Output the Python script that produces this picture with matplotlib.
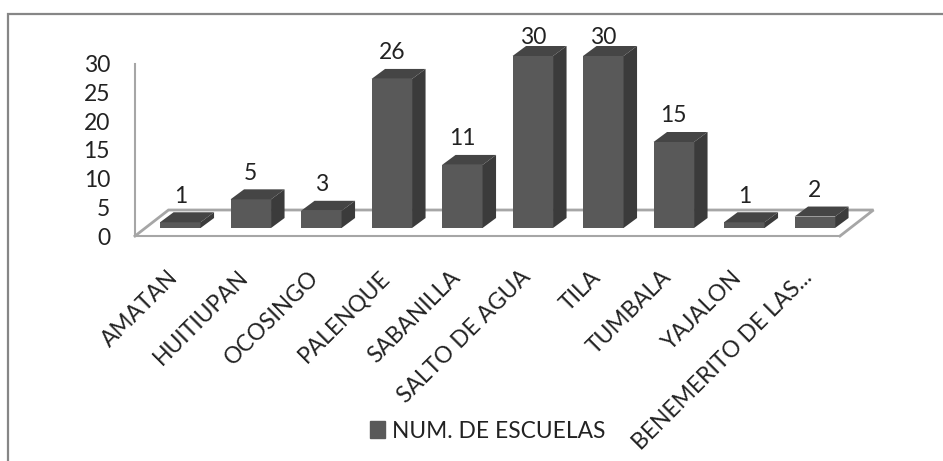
import matplotlib
matplotlib.use("Agg")
import matplotlib.pyplot as plt
from matplotlib.lines import Line2D
from matplotlib.patches import Polygon, Patch
from matplotlib.transforms import ScaledTranslation

categories = ["AMATAN", "HUITIUPAN", "OCOSINGO", "PALENQUE", "SABANILLA",
              "SALTO DE AGUA", "TILA", "TUMBALA", "YAJALON", "BENEMERITO DE LAS..."]
values = [1, 5, 3, 26, 11, 30, 30, 15, 1, 2]
series_name = "NUM. DE ESCUELAS"
y_ticks = [0, 5, 10, 15, 20, 25, 30]

W, H = 943, 461
plt.rcParams["font.family"] = ["Lato", "DejaVu Sans"]
TEXT = "#222222"
FRONT, TOP, SIDE = "#595959", "#454545", "#3b3b3b"
GRID = "#a6a6a6"
FRAME = "#868686"

fig = plt.figure(figsize=(W / 100, H / 100), dpi=100, facecolor="white")
ax = fig.add_axes([135 / W, 1 - 236 / H, (840 - 135) / W, (236 - 64) / H])
step = 70.5
x0 = 180.3
ax.set_xlim((135 - x0) / step, (840 - x0) / step)
ax.set_ylim(0, 30)
ax.patch.set_alpha(0)

ux = 1 / step          # data units per pixel
uy = 30 / 172
base = 8 * uy
bw = 40.5 * ux
ddx, ddy = 13.5 * ux, 10 * uy
fdx, fdy = 33.5 * ux, 26 * uy
xl, xr = ax.get_xlim()

# floor
ax.plot([xl, xl + fdx, xr + fdx, xr], [0, fdy, fdy, 0], color=GRID, lw=2,
        clip_on=False, zorder=1, solid_joinstyle="miter")

xs = list(range(len(values)))
ax.bar(xs, values, width=bw, bottom=base, color=FRONT, zorder=3, clip_on=False,
       label=series_name)
label_ceiling = 34.6   # data labels stay inside the chart area
for x, v in zip(xs, values):
    l, r, t = x - bw / 2, x + bw / 2, v + base
    ax.add_patch(Polygon([(l, t), (r, t), (r + ddx, t + ddy), (l + ddx, t + ddy)],
                         closed=True, fc=TOP, ec="none", zorder=3, clip_on=False))
    ax.add_patch(Polygon([(r, base), (r, t), (r + ddx, t + ddy), (r + ddx, base + ddy)],
                         closed=True, fc=SIDE, ec="none", zorder=3, clip_on=False))
    ax.text(x, min(t + 26 * uy, label_ceiling), str(v),
            ha="center", va="center", fontsize=16.5, color=TEXT, zorder=5, clip_on=False)

for s in ("top", "right"):
    ax.spines[s].set_visible(False)
for s in ("left", "bottom"):
    ax.spines[s].set_color(GRID)
    ax.spines[s].set_linewidth(1.5)
ax.set_yticks(y_ticks)
ax.tick_params(axis="y", length=0, pad=18, labelsize=16.5, labelcolor=TEXT)
ax.set_xticks(xs)
ax.set_xticklabels(categories, rotation=45, ha="right", va="top", rotation_mode="anchor",
                   fontsize=16.4, color=TEXT)
ax.tick_params(axis="x", length=0, pad=22)
shift = ScaledTranslation(-13 / 100, 0, fig.dpi_scale_trans)
for lab in ax.get_xticklabels():
    lab.set_transform(lab.get_transform() + shift)

# legend
fig.legend(handles=[Patch(color=FRONT, label=series_name)], frameon=False,
           loc="center left", bbox_to_anchor=(370 / W, 1 - 431 / H), fontsize=16.4,
           labelcolor=TEXT, handlelength=0.65, handleheight=0.8, handletextpad=0.3,
           borderpad=0, borderaxespad=0)

# chart-area frame
fig.add_artist(Line2D([8 / W, 8 / W, 1], [0, 1 - 14 / H, 1 - 14 / H], color=FRAME, lw=1.6,
                      solid_joinstyle="miter"))

fig.savefig("out.png", dpi=100)
